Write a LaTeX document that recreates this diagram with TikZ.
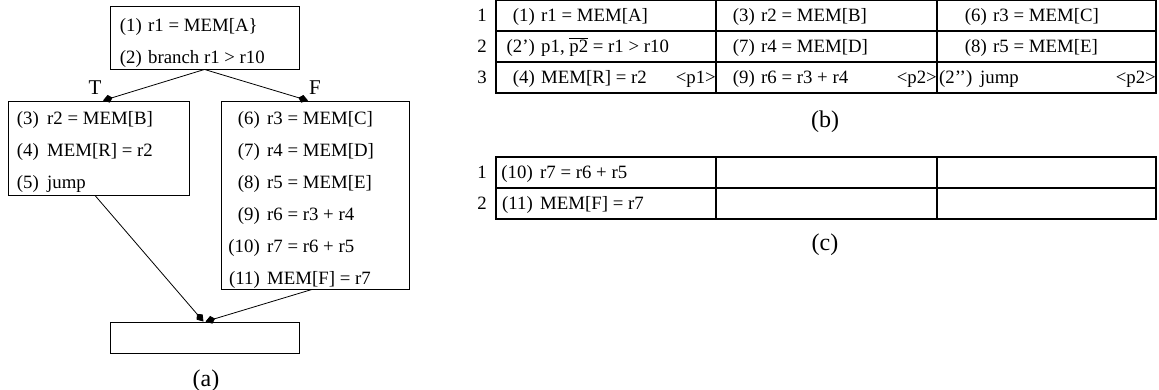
\documentclass[tikz,border=0pt]{standalone}
\usepackage{fontspec}
\setmainfont{Liberation Serif}
\usetikzlibrary{arrows.meta}

% one program line: number right-aligned, statement left-aligned
\newcommand\stm[6]{%
  \node[txt,anchor=base east] (#1n) at (#2,#4) {#5};
  \node[txt,anchor=base west] (#1s) at (#3,#4) {#6};}

\begin{document}
\begin{tikzpicture}[x=1pt,y=-1pt,
  txt/.style={inner sep=0pt,font=\fontsize{18.8}{22}\selectfont},
  lab/.style={inner sep=0pt,font=\fontsize{21}{24}\selectfont},
  captxt/.style={inner sep=0pt,font=\fontsize{24}{28}\selectfont},
  blk/.style={draw,line width=0.9pt,inner sep=0pt,rectangle},
  edge/.style={line width=0.8pt,-{Kite[length=10pt,width=8pt,inset=4pt]}},
  grid/.style={line width=1.1pt}]
\useasboundingbox (0,0) rectangle (1159,389);

% ---------- (a) control-flow graph ----------
\node[blk,minimum width=189pt,minimum height=63pt] (top) at (204.5,37.5) {};
\node[blk,minimum width=181pt,minimum height=94pt] (lb) at (98.5,148) {};
\node[blk,minimum width=188pt,minimum height=188pt] (rb) at (315,195) {};
\node[blk,minimum width=189pt,minimum height=31pt] (bot) at (204.5,337.5) {};

\stm{a1}{142}{148}{31}{(1)}{r1 = MEM[A\}}
\stm{a2}{142}{148}{63}{(2)}{branch r1 > r10}

\stm{a3}{39}{47}{124}{(3)}{r2 = MEM[B]}
\stm{a4}{39}{47}{156}{(4)}{MEM[R] = r2}
\stm{a5}{39}{47}{188}{(5)}{jump}

\stm{a6}{260}{267}{124}{(6)}{r3 = MEM[C]}
\stm{a7}{260}{267}{156}{(7)}{r4 = MEM[D]}
\stm{a8}{260}{267}{188}{(8)}{r5 = MEM[E]}
\stm{a9}{260}{267}{220}{(9)}{r6 = r3 + r4}
\stm{a10}{260}{267}{252}{(10)}{r7 = r6 + r5}
\stm{a11}{260}{267}{284}{(11)}{MEM[F] = r7}

\draw[edge] (top.south) -- ([xshift=4.5pt]lb.north);
\draw[edge] (top.south) -- ([xshift=-7pt]rb.north);
\draw[edge] ([xshift=-3.5pt]lb.south) -- ([xshift=-1pt]bot.north);
\draw[edge] ([xshift=-3pt]rb.south) -- ([xshift=1pt]bot.north);

\node[lab,anchor=base] (lt) at (95,94) {T};
\node[lab,anchor=base] (lf) at (315,94) {F};
\node[captxt,anchor=base] (capa) at (206,386) {(a)};

% ---------- (b) schedule ----------
\draw[grid] (496,0) rectangle (1156,93);
\draw[grid] (496,31) -- (1156,31) (496,62) -- (1156,62);
\draw[grid] (716,0) -- (716,93) (937,0) -- (937,93);

\node[txt,anchor=base] (br1) at (482,21.5) {1};
\node[txt,anchor=base] (br2) at (482,52.5) {2};
\node[txt,anchor=base] (br3) at (482,83.5) {3};

\stm{b11}{535}{541}{21.5}{(1)}{r1 = MEM[A]}
\stm{b21}{535}{541}{52.5}{(2’)}{p1, $\overline{\mbox{p2}}$ = r1 > r10}
\stm{b31}{535}{541}{83.5}{(4)}{MEM[R] = r2}
\node[txt,anchor=base east] (b31p) at (716,83.5) {<p1>};

\stm{b12}{755}{761}{21.5}{(3)}{r2 = MEM[B]}
\stm{b22}{755}{761}{52.5}{(7)}{r4 = MEM[D]}
\stm{b32}{755}{761}{83.5}{(9)}{r6 = r3 + r4}
\node[txt,anchor=base east] (b32p) at (937,83.5) {<p2>};

\stm{b13}{987}{993}{21.5}{(6)}{r3 = MEM[C]}
\stm{b23}{987}{993}{52.5}{(8)}{r5 = MEM[E]}
\node[txt,anchor=base west] (b33n) at (939,83.5) {(2’{}’)};
\node[txt,anchor=base west] (b33s) at (980,83.5) {jump};
\node[txt,anchor=base east] (b33p) at (1156,83.5) {<p2>};

\node[captxt,anchor=base] (capb) at (825,127) {(b)};

% ---------- (c) schedule ----------
\draw[grid] (496,157) rectangle (1156,219);
\draw[grid] (496,188) -- (1156,188);
\draw[grid] (716,157) -- (716,219) (937,157) -- (937,219);

\node[txt,anchor=base] (cr1) at (482,178.5) {1};
\node[txt,anchor=base] (cr2) at (482,209.5) {2};

\stm{c11}{533}{540}{178.5}{(10)}{r7 = r6 + r5}
\stm{c21}{533}{540}{209.5}{(11)}{MEM[F] = r7}

\node[captxt,anchor=base] (capc) at (825,250) {(c)};
\end{tikzpicture}
\end{document}
